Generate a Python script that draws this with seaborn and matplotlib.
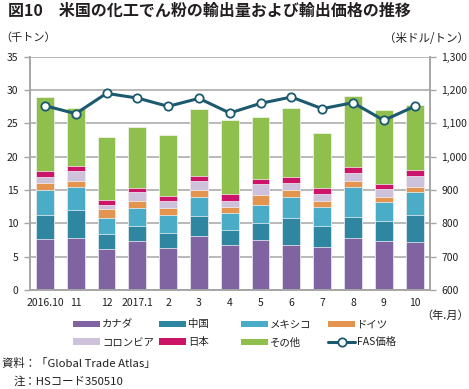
import numpy as np
import pandas as pd
import matplotlib
matplotlib.use("Agg")
import matplotlib.pyplot as plt
import matplotlib.patches as mpatches
from matplotlib.lines import Line2D
from matplotlib.ticker import FuncFormatter
import seaborn as sns

# data (thousand tonnes, USD/t)
months = ["2016.10", "11", "12", "2017.1", "2", "3", "4", "5", "6", "7", "8", "9", "10"]
canada = [7.6, 7.8, 6.1, 7.3, 6.3, 8.1, 6.75, 7.55, 6.75, 6.4, 7.8, 7.3, 7.15]
china = [3.7, 4.2, 2.35, 2.35, 2.3, 3.05, 2.3, 2.5, 4.05, 3.25, 3.2, 3.1, 4.05]
mexico = [3.7, 3.5, 2.35, 2.7, 2.6, 2.75, 2.45, 2.75, 3.15, 2.75, 4.45, 2.85, 3.55]
germany = [1.0, 0.85, 1.35, 1.0, 1.15, 1.1, 0.95, 1.4, 1.1, 1.0, 0.95, 0.65, 0.75]
colombia = [1.0, 1.5, 0.6, 1.3, 1.05, 1.35, 0.9, 1.65, 1.0, 1.0, 1.2, 1.25, 1.55]
japan = [0.8, 0.8, 0.7, 0.7, 0.7, 0.8, 1.05, 0.8, 0.9, 0.95, 0.85, 0.7, 0.9]
other = [11.2, 8.7, 9.55, 9.1, 9.1, 10.05, 11.05, 9.25, 10.4, 8.15, 10.65, 11.2, 9.75]
fas_price = [1153, 1129, 1190, 1176, 1151, 1175, 1131, 1160, 1179, 1144, 1162, 1109, 1151]

countries = ["カナダ", "中国", "メキシコ", "ドイツ", "コロンビア", "日本", "その他"]
colors = {
    "カナダ": "#8064a2",
    "中国": "#2e86a0",
    "メキシコ": "#4aacc6",
    "ドイツ": "#e3954f",
    "コロンビア": "#cdc1dc",
    "日本": "#cc1468",
    "その他": "#8fbf4c",
}
line_color = "#1b5a6e"
grid_color = "#a6a6a6"
text_color = "#231f20"

df = pd.DataFrame({"month": months, "カナダ": canada, "中国": china, "メキシコ": mexico,
                   "ドイツ": germany, "コロンビア": colombia, "日本": japan, "その他": other})
cum = df[countries].cumsum(axis=1)
cum["month"] = df["month"]

sns.set_style("white")
plt.rcParams['font.family'] = ['Noto Sans CJK JP', 'DejaVu Sans']
plt.rcParams['text.color'] = text_color

W, H = 469, 389
fig = plt.figure(figsize=(W / 100, H / 100), dpi=100)
ax = fig.add_axes([29.5 / W, 1 - 290 / H, (430 - 29.5) / W, (290 - 56.7) / H])

# stacked bars: draw cumulative totals from the top down
for c in reversed(countries):
    sns.barplot(data=cum, x="month", y=c, order=months, color=colors[c], saturation=1,
                width=0.58, errorbar=None, edgecolor="#f4f4f4", linewidth=0.5, ax=ax)

ax.set_ylim(0, 35)
ax.set_yticks(range(0, 36, 5))
ax.set_xlim(-0.5, 12.5)
ax.set_axisbelow(True)
ax.yaxis.grid(True, color=grid_color, linewidth=1.1)
ax.set_xlabel("")
ax.set_ylabel("")
ax.set_xticks(range(len(months)))
ax.set_xticklabels(months)
ax.set_xticks(np.arange(-0.5, 13, 1), minor=True)
ax.tick_params(axis="x", which="major", length=0, pad=6, labelsize=7.5, labelcolor=text_color)
ax.tick_params(axis="x", which="minor", length=4, width=1, color=grid_color, direction="out")
ax.tick_params(axis="y", length=4, width=1, color=grid_color, direction="out", pad=4,
               labelsize=7.5, labelcolor=text_color, left=True)
for s in ["top", "right"]:
    ax.spines[s].set_visible(False)
for s in ["left", "bottom"]:
    ax.spines[s].set_color(grid_color)
    ax.spines[s].set_linewidth(1.4)

# FAS price line on right axis
ax2 = ax.twinx()
sns.lineplot(x=np.arange(len(months)), y=fas_price, ax=ax2, color=line_color, linewidth=2.2,
             marker="o", markersize=6, markerfacecolor="white", markeredgecolor=line_color,
             markeredgewidth=1.3)
ax2.set_ylim(600, 1300)
ax2.set_yticks(range(600, 1301, 100))
ax2.yaxis.set_major_formatter(FuncFormatter(lambda v, p: f"{int(v):,}"))
ax2.set_xlim(-0.5, 12.5)
ax2.tick_params(axis="y", length=4, width=1, color=grid_color, direction="out", pad=4,
                labelsize=7.5, labelcolor=text_color, right=True)
for s in ["top", "left", "bottom"]:
    ax2.spines[s].set_visible(False)
ax2.spines["right"].set_color(grid_color)
ax2.spines["right"].set_linewidth(1.4)
ax2.grid(False)

# texts
fig.text(8 / W, 1 - 11 / H, "図10　米国の化工でん粉の輸出量および輸出価格の推移",
         fontsize=11.5, fontweight="bold", va="center", ha="left")
fig.text(0, 1 - 38 / H, "（千トン）", fontsize=8, va="center", ha="left")
fig.text(1, 1 - 38 / H, "（米ドル/トン）", fontsize=8.3, va="center", ha="right")
fig.text(1, 1 - 316 / H, "（年.月）", fontsize=8, va="center", ha="right")
fig.text(2 / W, 1 - 363 / H, "資料：「Global Trade Atlas」", fontsize=8.2, va="center", ha="left")
fig.text(14 / W, 1 - 381 / H, "注：HSコード350510", fontsize=8.2, va="center", ha="left")

# legend, four columns of two rows
handles = [mpatches.Patch(facecolor=colors[c], edgecolor="none", label=c) for c in countries]
handles.append(Line2D([], [], color=line_color, linewidth=2.2, marker="o", markersize=6,
                      markerfacecolor="white", markeredgecolor=line_color,
                      markeredgewidth=1.3, label="FAS価格"))
col_x = [73, 159, 241, 328]
for j, x in enumerate(col_x):
    hs = [handles[j], handles[j + 4]]
    fig.legend(handles=hs, labels=[h.get_label() for h in hs], loc="upper left",
               bbox_to_anchor=(x / W, 1 - 319.5 / H), frameon=False, fontsize=7.5,
               borderpad=0, borderaxespad=0, handlelength=2.6, handleheight=0.55,
               handletextpad=0.2, labelspacing=0.75)

fig.savefig("out.png", dpi=100)
